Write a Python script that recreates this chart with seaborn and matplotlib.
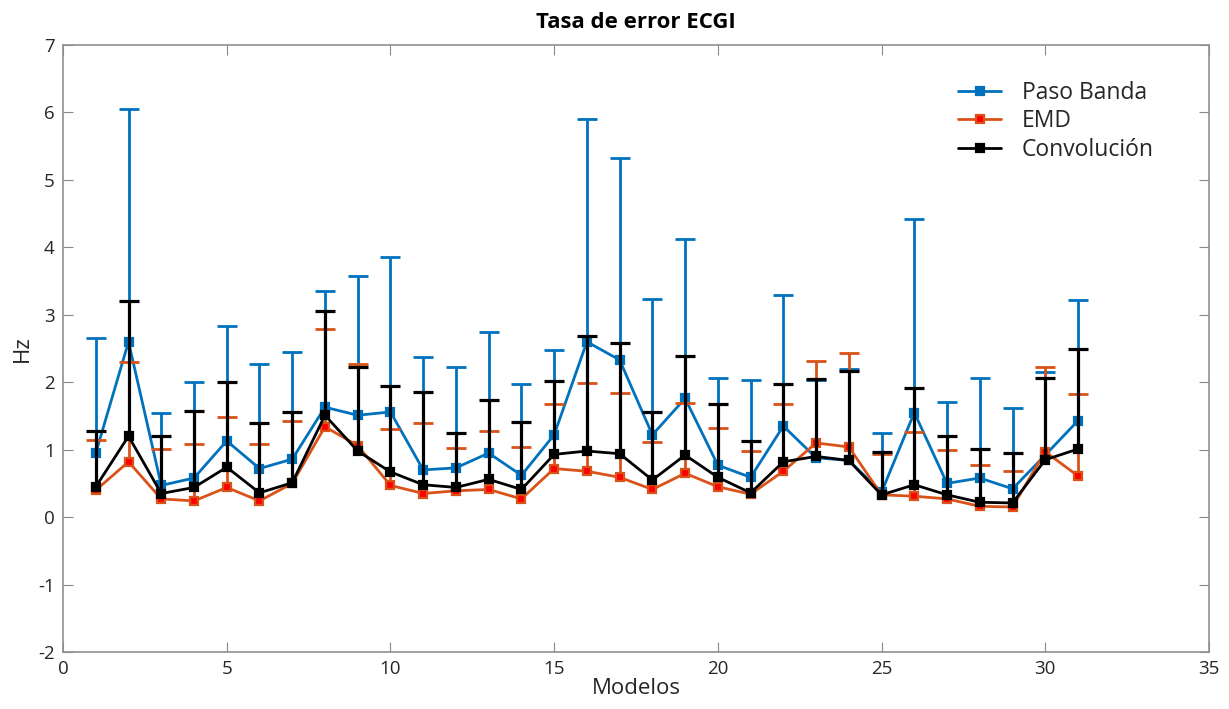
import numpy as np
import pandas as pd
import matplotlib
matplotlib.use("Agg")
import matplotlib.pyplot as plt
import seaborn as sns

modelos = list(range(1, 32))

paso_banda = [0.95, 2.60, 0.47, 0.58, 1.13, 0.72, 0.86, 1.63, 1.51, 1.56,
              0.70, 0.73, 0.95, 0.62, 1.22, 2.60, 2.33, 1.22, 1.76, 0.77,
              0.59, 1.35, 0.88, 0.84, 0.37, 1.55, 0.50, 0.58, 0.42, 0.92, 1.43]
paso_banda_sup = [2.66, 6.05, 1.54, 2.00, 2.83, 2.27, 2.45, 3.36, 3.58, 3.86,
                  2.37, 2.22, 2.75, 1.98, 2.48, 5.90, 5.32, 3.23, 4.12, 2.06,
                  2.03, 3.29, 2.03, 2.20, 1.25, 4.42, 1.71, 2.06, 1.62, 2.15, 3.22]

emd = [0.40, 0.82, 0.27, 0.24, 0.44, 0.24, 0.50, 1.34, 1.06, 0.47,
       0.35, 0.39, 0.41, 0.27, 0.72, 0.68, 0.59, 0.41, 0.65, 0.45,
       0.34, 0.68, 1.10, 1.04, 0.33, 0.31, 0.27, 0.16, 0.15, 0.97, 0.61]
emd_sup = [1.14, 2.30, 1.01, 1.09, 1.48, 1.08, 1.43, 2.79, 2.27, 1.30,
           1.39, 1.02, 1.28, 1.04, 1.67, 1.99, 1.84, 1.11, 1.69, 1.32,
           0.98, 1.67, 2.32, 2.43, 0.93, 1.26, 1.00, 0.78, 0.68, 2.23, 1.83]

convolucion = [0.45, 1.20, 0.35, 0.44, 0.74, 0.36, 0.51, 1.51, 0.98, 0.67,
               0.48, 0.44, 0.56, 0.41, 0.93, 0.98, 0.94, 0.55, 0.92, 0.59,
               0.36, 0.82, 0.90, 0.84, 0.33, 0.48, 0.33, 0.22, 0.21, 0.85, 1.01]
convolucion_sup = [1.28, 3.20, 1.21, 1.58, 2.01, 1.40, 1.56, 3.05, 2.22, 1.95,
                   1.85, 1.24, 1.73, 1.41, 2.02, 2.68, 2.58, 1.56, 2.39, 1.67,
                   1.13, 1.98, 2.05, 2.17, 0.97, 1.92, 1.21, 1.01, 0.95, 2.06, 2.50]

series = [
    ("Paso Banda", paso_banda, paso_banda_sup, "#0072BD", "#0072BD"),
    ("EMD", emd, emd_sup, "#D95319", "#FF0000"),
    ("Convolución", convolucion, convolucion_sup, "#000000", "#000000"),
]

sns.set_theme(style="white")
plt.rcParams["font.family"] = ["Open Sans", "DejaVu Sans"]
plt.rcParams["axes.unicode_minus"] = False

fig = plt.figure(figsize=(12.29, 7.09), dpi=100)
ax = fig.add_axes([0.0513, 0.0804, 0.9324, 0.8561])

frames = []
for name, vals, sup, color, face in series:
    frames.append(pd.DataFrame({"Modelos": modelos, "Hz": vals, "Serie": name}))
df = pd.concat(frames, ignore_index=True)

for i, (name, vals, sup, color, face) in enumerate(series):
    v = np.array(vals)
    s = np.array(sup)
    w = 2.3 if name == "Convolución" else 2.0
    eb = ax.errorbar(modelos, v, yerr=[np.zeros_like(v), s - v], fmt="none",
                     ecolor=color, elinewidth=w, capsize=7, capthick=w,
                     zorder=2 + i)
    caps = eb[1]
    if len(caps) == 2:
        caps[0].set_visible(False)
    sns.lineplot(data=df[df["Serie"] == name], x="Modelos", y="Hz", ax=ax,
                 color=color, linewidth=2.0, marker="s", markersize=6,
                 markerfacecolor=face, markeredgecolor=color,
                 markeredgewidth=1.6, label=name, zorder=2.5 + i)

ax.set_xlim(0, 35)
ax.set_ylim(-2, 7)
ax.set_xticks(range(0, 36, 5))
ax.set_yticks(range(-2, 8))
ax.tick_params(axis="both", which="both", direction="in", length=7, width=0.8,
               colors="#888888", labelcolor="#262626", labelsize=13.5,
               top=True, right=True, bottom=True, left=True, pad=6)
for sp in ax.spines.values():
    sp.set_color("#909090")
    sp.set_linewidth(1.2)

ax.set_title("Tasa de error ECGI", fontsize=16, fontweight="bold", pad=12,
             color="#000000")
ax.set_xlabel("Modelos", fontsize=16, color="#262626", labelpad=0)
ax.set_ylabel("Hz", fontsize=16, color="#262626", labelpad=4)

leg = ax.legend(loc="upper right", bbox_to_anchor=(0.97, 0.975), frameon=False,
                fontsize=16.5, handlelength=1.9, labelspacing=0.2,
                handletextpad=0.9)

fig.savefig("out.png", dpi=100)
